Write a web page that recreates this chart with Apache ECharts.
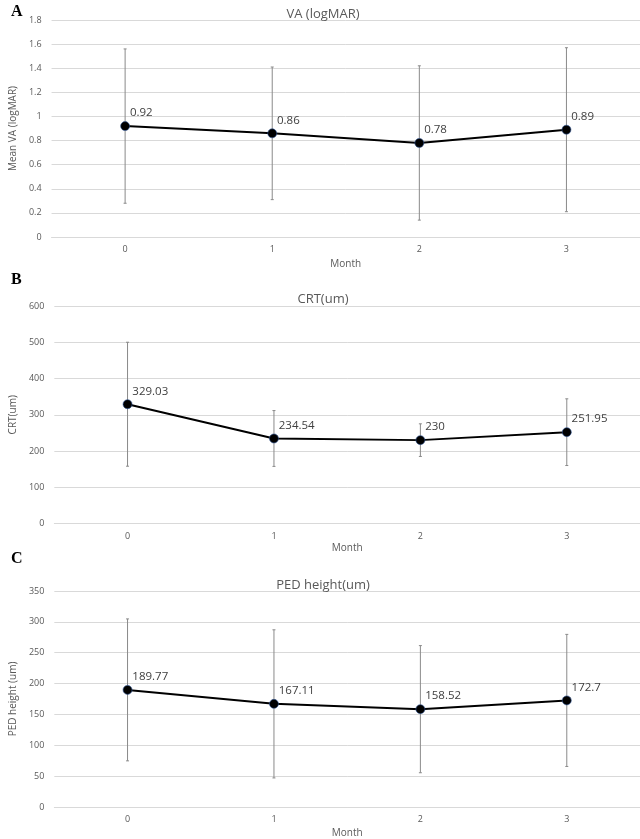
<!DOCTYPE html>
<html>
<head>
<meta charset="utf-8">
<script src="https://cdn.jsdelivr.net/npm/echarts@6/dist/echarts.min.js"></script>
<style>
html,body{margin:0;padding:0;background:#fff;}
#chart{width:640px;height:839px;}
</style>
</head>
<body>
<div id="chart"></div>
<script>
// ---- data ----
var months = ['0', '1', '2', '3'];
var vaMean = [0.92, 0.86, 0.78, 0.89];
var vaSD = [0.64, 0.55, 0.64, 0.68];
var crtMean = [329.03, 234.54, 230, 251.95];
var crtSD = [171, 77, 45, 92];
var pedMean = [189.77, 167.11, 158.52, 172.7];
var pedSD = [115, 120, 103, 107];

var panelTitles = ['VA (logMAR)', 'CRT(um)', 'PED height(um)'];
var panelLetters = ['A', 'B', 'C'];
var yNames = ['Mean VA (logMAR)', 'CRT(um)', 'PED height (um)'];
var xName = 'Month';

// ---- layout ----
var grids = [
  {left: 48, top: 20, width: 592, height: 217},
  {left: 48, top: 306, width: 592, height: 217.5},
  {left: 48, top: 591, width: 592, height: 217}
];
var yCfg = [
  {min: 0, max: 1.8, interval: 0.2},
  {min: 0, max: 600, interval: 100},
  {min: 0, max: 350, interval: 50}
];
var nameGaps = [22, 20, 21];
var titleTops = [3, 288, 574];
var letterTops = [-1, 267, 546];

var gridColor = '#d9d9d9';
var textGray = '#595959';
var font = 'Open Sans';

var means = [vaMean, crtMean, pedMean];
var sds = [vaSD, crtSD, pedSD];

var xAxes = [], yAxes = [], series = [], titles = [];
for (var p = 0; p < 3; p++) {
  xAxes.push({
    type: 'category', gridIndex: p, data: months, boundaryGap: true,
    axisLine: {show: true, lineStyle: {color: gridColor, width: 1}},
    axisTick: {show: false},
    axisLabel: {color: textGray, fontSize: 9, fontFamily: font, margin: 8},
    name: xName, nameLocation: 'middle', nameGap: nameGaps[p],
    nameTextStyle: {color: textGray, fontSize: 10, fontFamily: font}
  });
  yAxes.push({
    type: 'value', gridIndex: p, min: yCfg[p].min, max: yCfg[p].max, interval: yCfg[p].interval,
    axisLine: {show: false}, axisTick: {show: false},
    splitLine: {lineStyle: {color: gridColor, width: 1}},
    axisLabel: {color: textGray, fontSize: 9, fontFamily: font, margin: 10},
    name: yNames[p], nameLocation: 'middle', nameGap: 32,
    nameTextStyle: {color: textGray, fontSize: 10, fontFamily: font}
  });
  var errData = means[p].map(function (m, i) {
    return [i, m - sds[p][i], m + sds[p][i]];
  });
  series.push({
    type: 'custom', xAxisIndex: p, yAxisIndex: p, z: 1,
    data: errData,
    encode: {x: 0, y: [1, 2]},
    renderItem: function (params, api) {
      var x = api.value(0);
      var lo = api.coord([x, api.value(1)]);
      var hi = api.coord([x, api.value(2)]);
      var cap = 1.5;
      var st = {stroke: '#8a8a8a', lineWidth: 1};
      return {
        type: 'group',
        children: [
          {type: 'line', shape: {x1: hi[0], y1: hi[1], x2: lo[0], y2: lo[1]}, style: st},
          {type: 'line', shape: {x1: hi[0] - cap, y1: hi[1], x2: hi[0] + cap, y2: hi[1]}, style: st},
          {type: 'line', shape: {x1: lo[0] - cap, y1: lo[1], x2: lo[0] + cap, y2: lo[1]}, style: st}
        ]
      };
    },
    silent: true
  });
  series.push({
    type: 'line', xAxisIndex: p, yAxisIndex: p, z: 3,
    data: means[p],
    symbol: 'circle', symbolSize: 9,
    lineStyle: {color: '#000', width: 2},
    itemStyle: {color: '#000', borderColor: '#2f5597', borderWidth: 0.6},
    label: {
      show: true, position: 'right', distance: 5, offset: [-5, -13],
      color: '#404040', fontSize: 11.5, fontFamily: font
    },
    animation: false
  });
  titles.push({
    text: panelTitles[p], left: 318, top: titleTops[p], textAlign: 'center',
    textStyle: {color: textGray, fontSize: 13, fontWeight: 'normal', fontFamily: font}
  });
  titles.push({
    text: panelLetters[p], left: 6, top: letterTops[p],
    textStyle: {color: '#000', fontSize: 16, fontWeight: 'bold', fontFamily: 'Liberation Serif'}
  });
}

var chart = echarts.init(document.getElementById('chart'), null, {renderer: 'canvas'});
chart.setOption({
  animation: false,
  backgroundColor: '#fff',
  title: titles,
  grid: grids,
  xAxis: xAxes,
  yAxis: yAxes,
  series: series
});
</script>
</body>
</html>
